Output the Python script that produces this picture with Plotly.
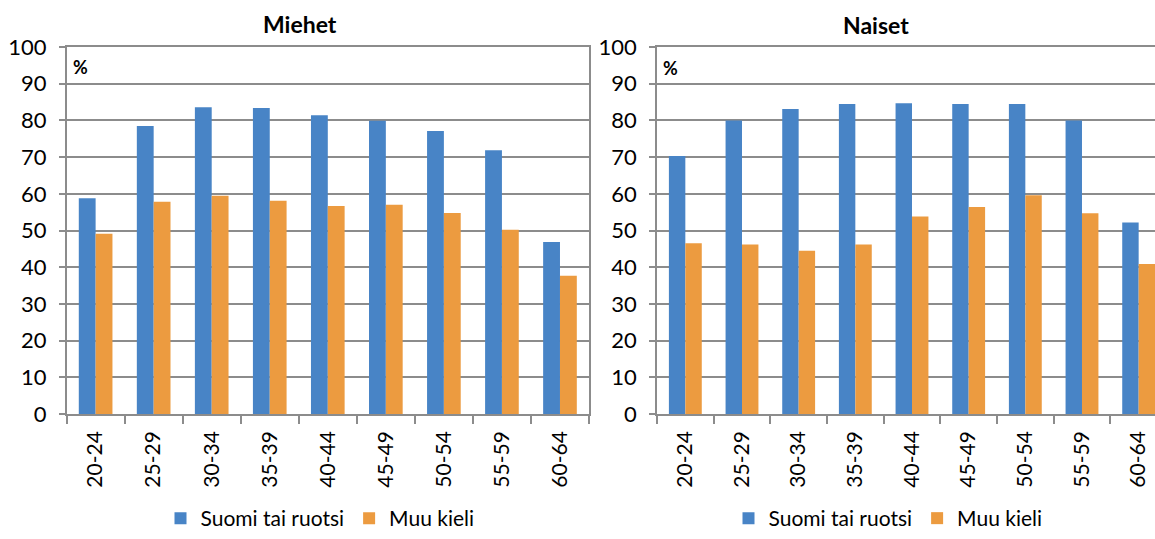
import plotly.graph_objects as go

categories = ["20-24", "25-29", "30-34", "35-39", "40-44", "45-49", "50-54", "55-59", "60-64"]
miehet_suomi = [58.8, 78.5, 83.6, 83.4, 81.4, 79.9, 77.1, 71.9, 46.9]
miehet_muu = [49.1, 57.8, 59.5, 58.1, 56.7, 57.0, 54.8, 50.2, 37.7]
naiset_suomi = [70.3, 80.0, 83.1, 84.5, 84.7, 84.5, 84.5, 80.0, 52.2]
naiset_muu = [46.5, 46.2, 44.5, 46.2, 53.8, 56.4, 59.6, 54.7, 40.9]
series_names = ["Suomi tai ruotsi", "Muu kieli"]
panel_titles = ["Miehet", "Naiset"]

BLUE = "#4884c6"
ORANGE = "#ec9b40"
GRID = "#8c8c8c"
FONT = "Lato"

W, H = 1155, 539

fig = go.Figure()
fig.add_bar(x=categories, y=miehet_suomi, name=series_names[0], marker=dict(color=BLUE, line=dict(width=0)),
            xaxis="x", yaxis="y", legend="legend")
fig.add_bar(x=categories, y=miehet_muu, name=series_names[1], marker=dict(color=ORANGE, line=dict(width=0)),
            xaxis="x", yaxis="y", legend="legend")
fig.add_bar(x=categories, y=naiset_suomi, name=series_names[0], marker=dict(color=BLUE, line=dict(width=0)),
            xaxis="x2", yaxis="y2", legend="legend2")
fig.add_bar(x=categories, y=naiset_muu, name=series_names[1], marker=dict(color=ORANGE, line=dict(width=0)),
            xaxis="x2", yaxis="y2", legend="legend2")

ydom = [(H - 414) / H, (H - 47) / H]

xcommon = dict(type="category", tickson="boundaries", ticks="outside", ticklen=8, tickcolor=GRID,
               tickwidth=1.5, showline=True, linecolor=GRID, linewidth=1.5, tickangle=-90,
               ticklabelstandoff=7, automargin=False,
               tickfont=dict(family=FONT, size=21, color="#000"), showgrid=False)
ycommon = dict(range=[0, 100], dtick=10, showgrid=True, gridcolor=GRID, gridwidth=1.5,
               ticks="outside", ticklen=6, tickcolor=GRID, tickwidth=1.5, showline=True,
               linecolor=GRID, linewidth=1.5, zeroline=False, ticklabelstandoff=8, automargin=False,
               tickfont=dict(family=FONT, size=22, color="#000"))

legend_common = dict(orientation="h", xanchor="center", yref="paper", y=0, yanchor="bottom",
                     font=dict(family=FONT, size=21), bgcolor="rgba(0,0,0,0)", itemclick=False)


def txt(text, x, y, size, xanchor="center"):
    return dict(text=text, x=x / W, y=(H - y) / H, xref="paper", yref="paper", xanchor=xanchor,
                yanchor="middle", showarrow=False, font=dict(family=FONT, size=size, color="#000"))


fig.update_layout(
    width=W, height=H,
    margin=dict(l=0, r=0, t=0, b=0),
    paper_bgcolor="white", plot_bgcolor="white",
    barmode="group", bargap=0.42, bargroupgap=0,
    font=dict(family=FONT, color="#000"),
    xaxis=dict(domain=[66.6 / W, 589 / W], anchor="y", range=[-0.5, 8.5], mirror=True, **xcommon),
    yaxis=dict(domain=ydom, anchor="x", mirror=True, **ycommon),
    xaxis2=dict(domain=[657 / W, 1.0], anchor="y2", range=[-0.5, 8.5 - 12 / 56.7], mirror=True, **xcommon),
    yaxis2=dict(domain=ydom, anchor="x2", **ycommon),
    legend=dict(x=320 / W, **legend_common),
    legend2=dict(x=888 / W, **legend_common),
    annotations=[
        txt("<b>%s</b>" % panel_titles[0], 300, 24, 23),
        txt("<b>%s</b>" % panel_titles[1], 876, 25, 23),
        txt("<b>%</b>", 71, 67, 18, "left"),
        txt("<b>%</b>", 661, 68, 18, "left"),
    ],
)

fig.write_html("out.html", config={"displayModeBar": False},
               post_script="document.body.style.margin='0';document.body.style.overflow='hidden';")
